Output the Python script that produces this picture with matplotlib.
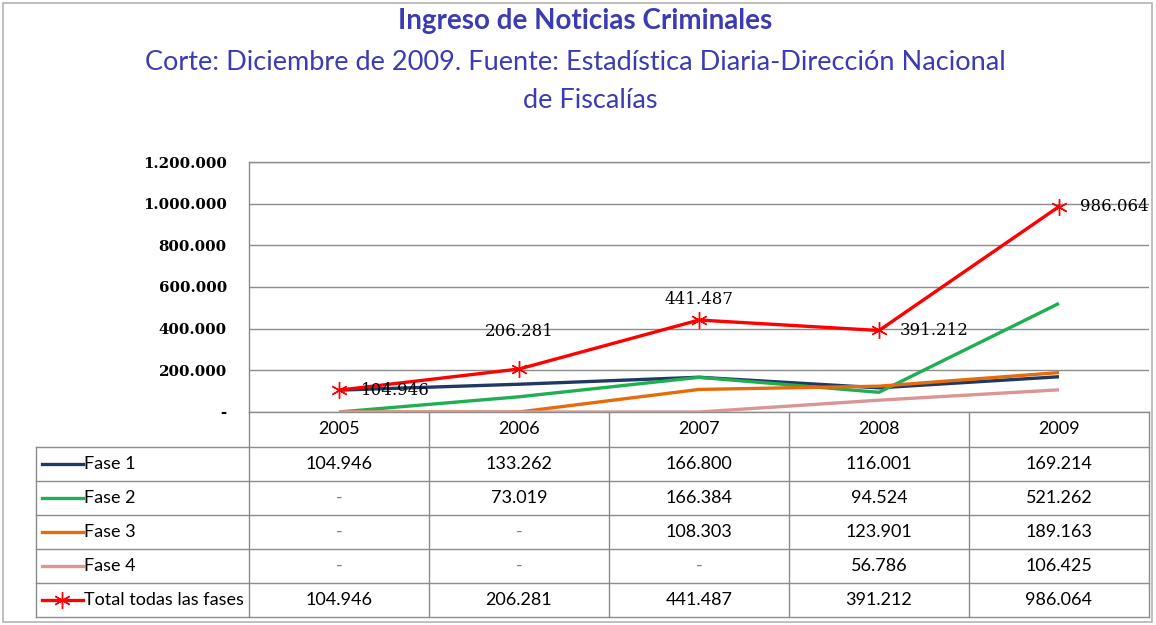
import numpy as np
import matplotlib.pyplot as plt
from matplotlib.lines import Line2D
from matplotlib.patches import Rectangle

# datos
years = ['2005', '2006', '2007', '2008', '2009']
fase1 = [104946, 133262, 166800, 116001, 169214]
fase2 = [0, 73019, 166384, 94524, 521262]
fase3 = [0, 0, 108303, 123901, 189163]
fase4 = [0, 0, 0, 56786, 106425]
total = [104946, 206281, 441487, 391212, 986064]
series = [fase1, fase2, fase3, fase4, total]
names = ['Fase 1', 'Fase 2', 'Fase 3', 'Fase 4', 'Total todas las fases']
colors = ['#1f3864', '#1fae52', '#e46c0a', '#d99694', '#ff0000']
yticks = [0, 200000, 400000, 600000, 800000, 1000000, 1200000]

title_color = '#3b3bb3'
grid_color = '#8c8c8c'
body_font = 'Lato'


def fmt(v):
    if v == 0:
        return '-'
    return f'{v:,}'.replace(',', '.')


W, H = 1156, 625
fig = plt.figure(figsize=(W / 100, H / 100), dpi=100)

# grafico
ax_l, ax_t, ax_w, ax_h = 249, 162, 900, 250
ax = fig.add_axes([ax_l / W, 1 - (ax_t + ax_h) / H, ax_w / W, ax_h / H])
x = np.arange(len(years))
for vals, c in zip(series[:4], colors[:4]):
    ax.plot(x, vals, color=c, lw=2.4, solid_capstyle='butt', zorder=3)
ax.plot(x, total, color=colors[4], lw=2.4, marker=(6, 2, 0), ms=12,
        mew=1.0, zorder=4)

ax.set_xlim(-0.5, len(years) - 0.5)
ax.set_ylim(0, 1200000)
ax.set_yticks(yticks)
ax.set_yticklabels([fmt(v) for v in yticks], family='DejaVu Serif',
                   fontweight='bold', fontsize=10.8)
ax.set_xticks([])
ax.tick_params(axis='y', length=0, pad=16)
ax.yaxis.grid(True, color=grid_color, lw=1)
ax.set_axisbelow(True)
ax.spines['right'].set_visible(False)
for s in ['left', 'top', 'bottom']:
    ax.spines[s].set_color(grid_color)
    ax.spines[s].set_linewidth(1)

# etiquetas del total
offsets = [(16, 0, 'left', 'center'), (0, 21, 'center', 'bottom'),
           (0, 9, 'center', 'bottom'), (15, 0, 'left', 'center'),
           (15, 0, 'left', 'center')]
for i, v in enumerate(total):
    dx, dy, ha, va = offsets[i]
    ax.annotate(fmt(v), (i, v), xytext=(dx, dy), textcoords='offset points',
                ha=ha, va=va, family='DejaVu Serif', fontsize=12, zorder=5)

# capa en pixeles para tabla y titulos
ov = fig.add_axes([0, 0, 1, 1], zorder=-1)
ov.set_xlim(0, W)
ov.set_ylim(H, 0)
ov.axis('off')

ov.add_patch(Rectangle((3, 3), W - 7, H - 6, fill=False, ec='#b4b4b4', lw=1.2))

ov.text(585, 21, 'Ingreso de Noticias Criminales', ha='center', va='center',
        family=body_font, fontweight='bold', fontsize=20, color=title_color)
ov.text(575, 63, 'Corte: Diciembre de 2009. Fuente: Estadística Diaria-Dirección Nacional',
        ha='center', va='center', family=body_font, fontsize=19.5, color=title_color)
ov.text(590, 101, 'de Fiscalías', ha='center', va='center', family=body_font,
        fontsize=19.5, color=title_color)

# tabla de datos
tab_left = 36
col_w = ax_w / len(years)
col_edges = [ax_l + i * col_w for i in range(len(years) + 1)]
head_top, head_bot = ax_t + ax_h, 447
row_h = 34
row_edges = [head_bot + i * row_h for i in range(len(names) + 1)]
tc = '#8c8c8c'

for xe in col_edges:
    ov.plot([xe, xe], [head_top, row_edges[-1]], color=tc, lw=1)
ov.plot([tab_left, tab_left], [head_bot, row_edges[-1]], color=tc, lw=1)
for ye in row_edges:
    ov.plot([tab_left, col_edges[-1]], [ye, ye], color=tc, lw=1)

for j, yr in enumerate(years):
    cx = (col_edges[j] + col_edges[j + 1]) / 2
    ov.text(cx, (head_top + head_bot) / 2, yr, ha='center', va='center',
            family=body_font, fontsize=13)

for i, (name, vals, c) in enumerate(zip(names, series, colors)):
    cy = (row_edges[i] + row_edges[i + 1]) / 2
    ov.add_line(Line2D([42, 83], [cy, cy], color=c, lw=2.4))
    if i == 4:
        ov.add_line(Line2D([62], [cy], color=c, marker=(6, 2, 0), ms=12, mew=1.0))
    ov.text(84, cy, name, ha='left', va='center', family=body_font, fontsize=13)
    for j, v in enumerate(vals):
        cx = (col_edges[j] + col_edges[j + 1]) / 2
        ov.text(cx, cy, fmt(v), ha='center', va='center', family=body_font,
                fontsize=13, color='#7f7f7f' if v == 0 else 'black')

fig.savefig('out.png', dpi=100)
